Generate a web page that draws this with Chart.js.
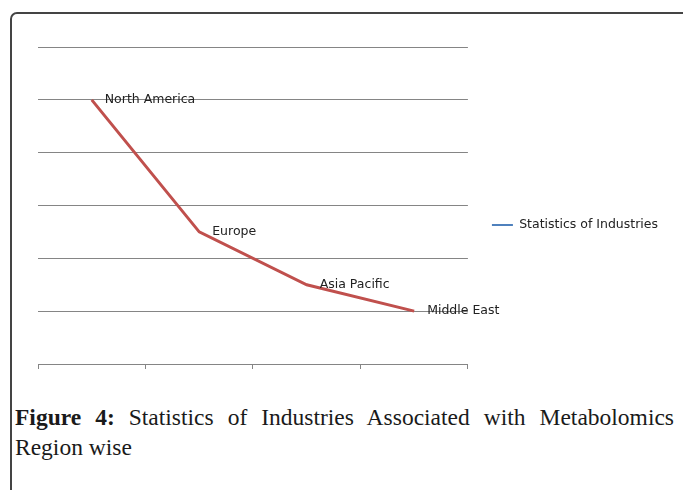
<!DOCTYPE html>
<html>
<head>
<meta charset="utf-8">
<script src="https://cdn.jsdelivr.net/npm/chart.js@4.4.0/dist/chart.umd.min.js"></script>
<style>
    html, body { margin: 0; padding: 0; background: #fff; }
    body { width: 683px; height: 490px; position: relative; overflow: hidden; }
    .frame {
        position: absolute; left: 10px; top: 12px; width: 700px; height: 500px;
        border: 2px solid #444; border-radius: 7px; box-sizing: border-box;
    }
    .chart-box { position: absolute; left: 0; top: 0; width: 683px; height: 380px; }
    .caption {
        position: absolute; left: 15px; top: 402px; width: 659px;
        font-family: "Liberation Serif", serif; font-size: 23.5px; line-height: 30px;
        color: #1a1a1a;
    }
    .caption .first { text-align: justify; text-align-last: justify; }
    .caption b { font-weight: bold; }
</style>
</head>
<body>
<div class="frame"></div>
<div class="chart-box"><canvas id="regionChart"></canvas></div>
<div class="caption">
    <div class="first"><b>Figure 4:</b> Statistics of Industries Associated with Metabolomics</div>
    <div>Region wise</div>
</div>

<script>
// data
const regions = ['North America', 'Europe', 'Asia Pacific', 'Middle East'];
const industries = [5, 2.5, 1.5, 1];
const seriesName = 'Statistics of Industries';

const gridGray = '#858585';
const textColor = '#222';

// point labels next to each point
const pointLabels = {
    id: 'pointLabels',
    afterDatasetsDraw(chart) {
        const ctx = chart.ctx;
        const meta = chart.getDatasetMeta(0);
        ctx.save();
        ctx.font = '12.5px "DejaVu Sans"';
        ctx.fillStyle = textColor;
        ctx.textBaseline = 'middle';
        ctx.textAlign = 'left';
        meta.data.forEach((pt, i) => {
            ctx.fillText(regions[i], pt.x + 13, pt.y);
        });
        ctx.restore();
    }
};

const ctx = document.getElementById('regionChart').getContext('2d');
const regionChart = new Chart(ctx, {
    type: 'line',
    data: {
        labels: regions,
        datasets: [{
            label: seriesName,
            data: industries,
            borderColor: '#C0504D',
            borderWidth: 3,
            pointRadius: 0,
            tension: 0,
            fill: false
        }]
    },
    options: {
        responsive: true,
        maintainAspectRatio: false,
        animation: false,
        layout: { padding: { left: 38, top: 47, right: 15, bottom: 11 } },
        plugins: {
            tooltip: { enabled: false },
            legend: {
                position: 'right',
                maxWidth: 240,
                title: {
                    display: true,
                    text: ' ',
                    font: { size: 10 },
                    padding: { top: 0, bottom: 22 }
                },
                labels: {
                    font: { family: 'DejaVu Sans', size: 12.5 },
                    color: textColor,
                    usePointStyle: true,
                    pointStyleWidth: 21,
                    padding: 24,
                    generateLabels: () => [{
                        text: seriesName,
                        pointStyle: 'line',
                        strokeStyle: '#4F81BD',
                        lineWidth: 2,
                        fillStyle: '#4F81BD',
                        fontColor: textColor,
                        hidden: false,
                        datasetIndex: 0
                    }]
                }
            }
        },
        scales: {
            x: {
                offset: true,
                grid: {
                    offset: true,
                    drawOnChartArea: false,
                    drawTicks: true,
                    tickLength: 5,
                    color: gridGray
                },
                border: { display: true, color: gridGray, width: 1 },
                ticks: { display: false }
            },
            y: {
                min: 0,
                max: 6,
                ticks: { display: false, stepSize: 1 },
                grid: { color: gridGray, drawTicks: false },
                border: { display: false }
            }
        }
    },
    plugins: [pointLabels]
});
</script>
</body>
</html>
